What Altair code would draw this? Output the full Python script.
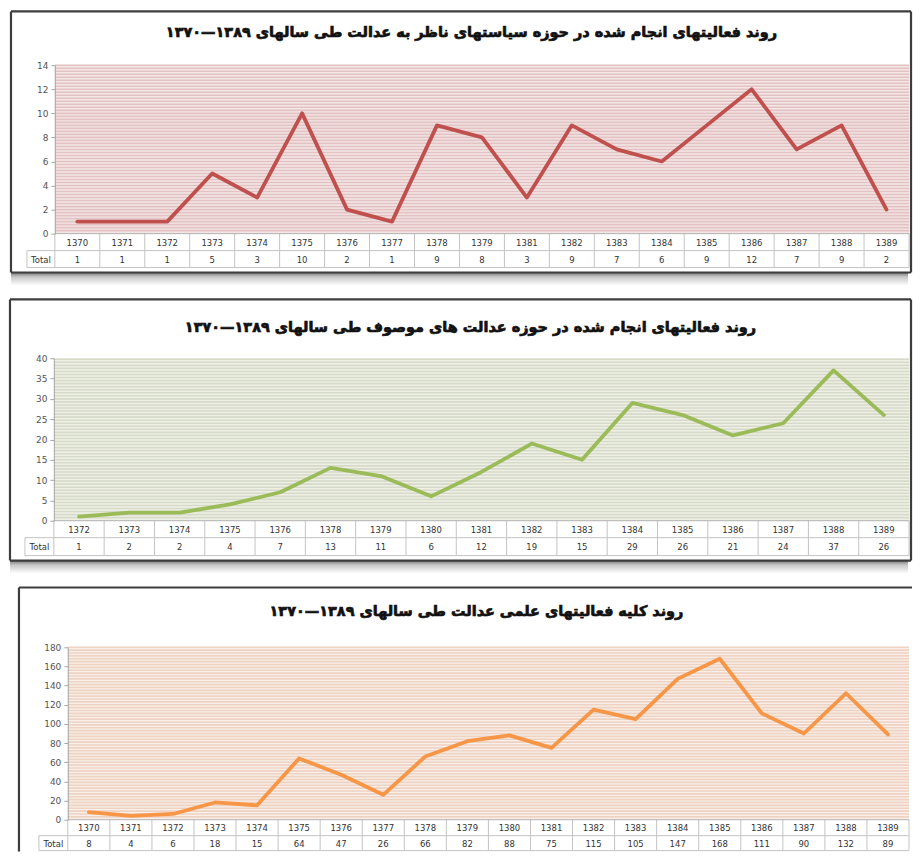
import altair as alt
import pandas as pd
import numpy as np

FONT = "DejaVu Sans"

# ---------------- data ----------------
years1 = ["1370", "1371", "1372", "1373", "1374", "1375", "1376", "1377", "1378", "1379",
          "1381", "1382", "1383", "1384", "1385", "1386", "1387", "1388", "1389"]
vals1 = [1, 1, 1, 5, 3, 10, 2, 1, 9, 8, 3, 9, 7, 6, 9, 12, 7, 9, 2]
ticks1 = [0, 2, 4, 6, 8, 10, 12, 14]
title1 = "روند فعالیتهای انجام شده در حوزه سیاستهای ناظر به عدالت طی سالهای ۱۳۸۹—۱۳۷۰"

years2 = ["1372", "1373", "1374", "1375", "1376", "1378", "1379", "1380", "1381", "1382",
          "1383", "1384", "1385", "1386", "1387", "1388", "1389"]
vals2 = [1, 2, 2, 4, 7, 13, 11, 6, 12, 19, 15, 29, 26, 21, 24, 37, 26]
ticks2 = [0, 5, 10, 15, 20, 25, 30, 35, 40]
title2 = "روند فعالیتهای انجام شده در حوزه عدالت های موصوف طی سالهای ۱۳۸۹—۱۳۷۰"

years3 = ["1370", "1371", "1372", "1373", "1374", "1375", "1376", "1377", "1378", "1379",
          "1380", "1381", "1382", "1383", "1384", "1385", "1386", "1387", "1388", "1389"]
vals3 = [8, 4, 6, 18, 15, 64, 47, 26, 66, 82, 88, 75, 115, 105, 147, 168, 111, 90, 132, 89]
ticks3 = [0, 20, 40, 60, 80, 100, 120, 140, 160, 180]
title3 = "روند کلیه فعالیتهای علمی عدالت طی سالهای ۱۳۸۹—۱۳۷۰"

W = 906
ONE = pd.DataFrame({"k": [0]})
TABLE_LINE = "#c4c4c4"
FRAME = "#3d3d3d"


def hrule(x0, x1, y, color, w):
    return alt.Chart(ONE).mark_rule(color=color, strokeWidth=w).encode(
        x=alt.value(x0), x2=alt.value(x1), y=alt.value(y))


def vrule(x, y0, y1, color, w):
    return alt.Chart(ONE).mark_rule(color=color, strokeWidth=w).encode(
        x=alt.value(x), y=alt.value(y0), y2=alt.value(y1))


def panel(years, vals, ticks, title, color, bg, stripe, step, g, H):
    n = len(years)
    ymax = ticks[-1]
    df = pd.DataFrame({"i": list(range(n)), "year": years, "v": vals})
    bnd = pd.DataFrame({"b": [i - 0.5 for i in range(n + 1)]})
    st = pd.DataFrame({"v": list(np.arange(step, ymax + step / 2, step))})
    xs = alt.Scale(domain=[-0.5, n - 0.5], range=[g["x0"], g["x1"]], nice=False, zero=False)
    ys = alt.Scale(domain=[0, ymax], range=[g["yb"], g["yt"]], nice=False, zero=False)
    yaxis = alt.Axis(values=ticks, offset=-g["x0"], grid=False, title=None,
                     domainColor="#a8a8a8", tickColor="#a8a8a8", tickSize=4,
                     labelFont=FONT, labelFontSize=9, labelColor="#555555",
                     labelPadding=3, zindex=1)

    layers = []
    # shadow
    if g.get("shadow", True):
        grad = alt.LinearGradient(
            gradient="linear", x1=0, x2=0, y1=0, y2=1,
            stops=[alt.GradientStop(offset=0, color="#7a7a7a"),
                   alt.GradientStop(offset=0.35, color="#c8c8c8"),
                   alt.GradientStop(offset=1, color="#ffffff")])
        layers.append(alt.Chart(ONE).mark_rect(fill=grad).encode(
            x=alt.value(g["fx0"]), x2=alt.value(g["fx1"] - 3),
            y=alt.value(g["fy1"]), y2=alt.value(g["fy1"] + 13)))
    # frame fill
    layers.append(alt.Chart(ONE).mark_rect(fill="white").encode(
        x=alt.value(g["fx0"]), x2=alt.value(g["fx1"]),
        y=alt.value(g["fy0"]), y2=alt.value(g["fy1"])))
    # plot background
    layers.append(alt.Chart(ONE).mark_rect(fill=bg).encode(
        x=alt.value(g["x0"]), x2=alt.value(g["x1"]),
        y=alt.value(g["yt"]), y2=alt.value(g["yb"])))
    # stripes
    layers.append(alt.Chart(st).mark_rule(color=stripe, strokeWidth=1.6).encode(
        y=alt.Y("v:Q", scale=ys, axis=yaxis),
        x=alt.value(g["x0"]), x2=alt.value(g["x1"])))
    # table lines
    layers.append(alt.Chart(bnd).mark_rule(color=TABLE_LINE, strokeWidth=1).encode(
        x=alt.X("b:Q", scale=xs, axis=None),
        y=alt.value(g["yb"]), y2=alt.value(g["r2"])))
    layers.append(hrule(g["x0"], g["x1"], g["yb"], "#b0b0b0", 1))
    layers.append(hrule(g["tx0"], g["x1"], g["r1"], TABLE_LINE, 1))
    layers.append(hrule(g["tx0"], g["x1"], g["r2"], TABLE_LINE, 1))
    layers.append(vrule(g["tx0"], g["r1"], g["r2"], TABLE_LINE, 1))
    # table text
    layers.append(alt.Chart(df).mark_text(font=FONT, fontSize=8.5, color="#333333").encode(
        x=alt.X("i:Q", scale=xs, axis=None),
        y=alt.value((g["yb"] + g["r1"]) / 2 + 0.5), text="year:N"))
    layers.append(alt.Chart(df).mark_text(font=FONT, fontSize=8.5, color="#333333").encode(
        x=alt.X("i:Q", scale=xs, axis=None),
        y=alt.value((g["r1"] + g["r2"]) / 2 + 0.5), text="v:Q"))
    layers.append(alt.Chart(pd.DataFrame({"t": ["Total"]})).mark_text(
        font=FONT, fontSize=8.5, color="#333333").encode(
        x=alt.value((g["tx0"] + g["x0"]) / 2), y=alt.value((g["r1"] + g["r2"]) / 2 + 0.5),
        text="t:N"))
    # frame edges
    for e in g["edges"]:
        if e == "t":
            layers.append(hrule(g["fx0"], g["fx1"], g["fy0"], FRAME, 2.2))
        elif e == "b":
            layers.append(hrule(g["fx0"], g["fx1"], g["fy1"], FRAME, 2.2))
        elif e == "l":
            layers.append(vrule(g["fx0"], g["fy0"], g["fy1"], FRAME, 2.2))
        elif e == "r":
            layers.append(vrule(g["fx1"], g["fy0"], g["fy1"], FRAME, 2.2))
    # title
    layers.append(alt.Chart(pd.DataFrame({"t": [title]})).mark_text(
        font=FONT, fontSize=14.5, fontWeight="bold", color="#111111",
        stroke="#111111", strokeWidth=0.7,
        align="center", baseline="middle").encode(
        x=alt.value(g["tcx"]), y=alt.value(g["tcy"]), text="t:N"))
    # line
    layers.append(alt.Chart(df).mark_line(
        color=color, strokeWidth=3.8, strokeJoin="round", strokeCap="round").encode(
        x=alt.X("i:Q", scale=xs, axis=None),
        y=alt.Y("v:Q", scale=ys, axis=yaxis)))
    return alt.layer(*layers).properties(width=W, height=H)


g1 = dict(fx0=2, fx1=905, fy0=1, fy1=263, x0=46, x1=903, yt=55, yb=224,
          r1=241, r2=258, tx0=18, tcx=464, tcy=23, edges="tblr", shadow=True)
g2 = dict(fx0=1, fx1=905, fy0=2, fy1=264, x0=45, x1=903, yt=61, yb=224,
          r1=241, r2=259, tx0=16, tcx=463, tcy=31, edges="tblr", shadow=True)
g3 = dict(fx0=10, fx1=906, fy0=3, fy1=268, x0=59, x1=903, yt=63, yb=236,
          r1=252, r2=267, tx0=30, tcx=469, tcy=28, edges="tl", shadow=False)

p1 = panel(years1, vals1, ticks1, title1, "#c0504d", "#f5e6e6", "#e2c2c2", 0.25, g1, 286)
p2 = panel(years2, vals2, ticks2, title2, "#9bbb59", "#eef0e6", "#d6dac8", 0.75, g2, 286)
p3 = panel(years3, vals3, ticks3, title3, "#f79646", "#faefe9", "#eed3c3", 3, g3, 268)

chart = alt.vconcat(p1, p2, p3, spacing=0).properties(padding=0).configure_view(
    stroke="transparent")

chart.save("out.html", embed_options={"renderer": "svg", "actions": False})
